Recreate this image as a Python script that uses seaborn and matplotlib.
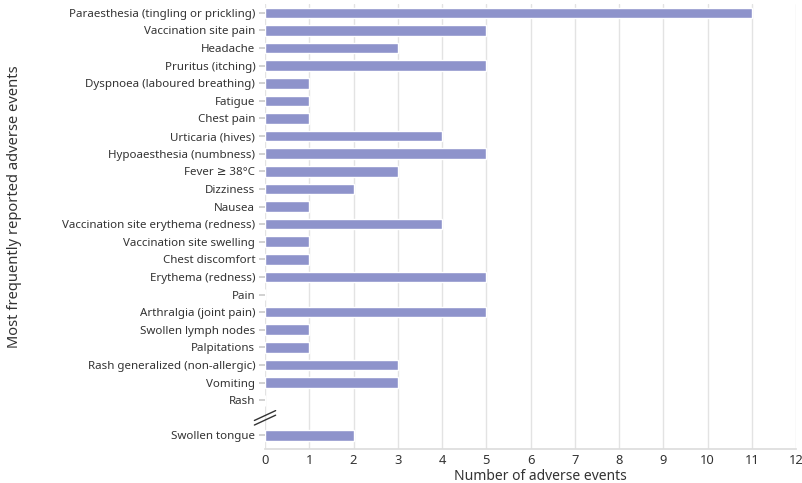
import matplotlib
matplotlib.use("Agg")
import matplotlib.pyplot as plt
import seaborn as sns
import pandas as pd
import numpy as np

categories = [
    "Paraesthesia (tingling or prickling)", "Vaccination site pain", "Headache",
    "Pruritus (itching)", "Dyspnoea (laboured breathing)", "Fatigue", "Chest pain",
    "Urticaria (hives)", "Hypoaesthesia (numbness)", "Fever \u2265 38\u00b0C", "Dizziness",
    "Nausea", "Vaccination site erythema (redness)", "Vaccination site swelling",
    "Chest discomfort", "Erythema (redness)", "Pain", "Arthralgia (joint pain)",
    "Swollen lymph nodes", "Palpitations", "Rash generalized (non-allergic)",
    "Vomiting", "Rash", "Swollen tongue",
]
values = [11, 5, 3, 5, 1, 1, 1, 4, 5, 3, 2, 1, 4, 1, 1, 5, 0, 5, 1, 1, 3, 3, 0, 2]
gap_label = "__gap__"

sns.set_theme(style="white")
plt.rcParams["font.family"] = ["Noto Sans", "DejaVu Sans"]

order = categories[:-1] + [gap_label] + categories[-1:]
df = pd.DataFrame({"event": categories, "count": values})

fig = plt.figure(figsize=(8.02, 4.83), dpi=100)
ax = fig.add_axes([265 / 802, 1 - 449 / 483, (796 - 265) / 802, (449 - 4) / 483])

sns.barplot(data=df, y="event", x="count", order=order, color="#8e93cb",
            width=0.6, saturation=1, ax=ax, orient="h")

ax.set_xlim(0, 12)
ax.set_ylim(24.77, -0.5)
ax.set_xticks(range(0, 13))
ax.xaxis.grid(True, color="#e3e3e3", linewidth=1)
ax.set_axisbelow(True)

yt = [i for i, c in enumerate(order) if c != gap_label]
ax.set_yticks(yt)
ax.set_yticklabels([order[i] for i in yt])

for s in ["top", "right", "left"]:
    ax.spines[s].set_visible(False)
ax.spines["bottom"].set_color("#dddddd")
ax.tick_params(axis="y", length=4, color="#cccccc", labelsize=8.3, labelcolor="#333333", pad=3, left=True)
ax.tick_params(axis="x", length=0, labelsize=9.3, labelcolor="#333333", pad=3.5)

ax.set_xlabel("Number of adverse events", fontsize=10, color="#333333")
ax.set_ylabel("Most frequently reported adverse events", fontsize=10.6, color="#333333")
ax.xaxis.set_label_coords(0.518, -0.044)
ax.yaxis.set_label_coords(-0.458, 0.544)

# axis break marker
gi = order.index(gap_label)
for dy in (-0.13, 0.13):
    ax.plot([-0.24, 0.24], [gi + dy + 0.28, gi + dy - 0.28], color="#333333",
            linewidth=1.0, clip_on=False, transform=ax.transData)

fig.savefig("out.png", dpi=100)
